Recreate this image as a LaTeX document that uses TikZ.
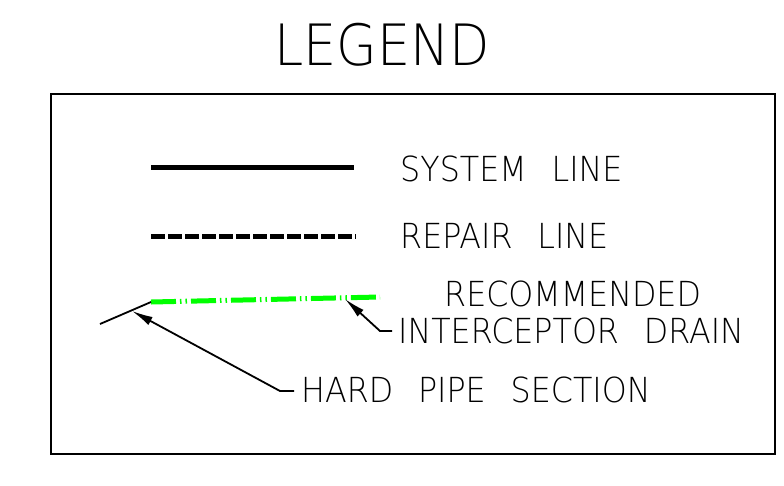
\documentclass[tikz,border=0pt]{standalone}
\usepackage{fontspec}
\newfontfamily\cad[FakeStretch=0.92]{DejaVu Sans ExtraLight}
\usetikzlibrary{arrows.meta}
\definecolor{drain}{RGB}{0,255,0}
\newcommand{\gap}{\hspace{0.72em}}
\begin{document}
\begin{tikzpicture}[x=1pt,y=-1pt,
  lbl/.style={anchor=base west,inner sep=0pt,font=\cad\fontsize{34.5}{38}\selectfont},
  leader/.style={line width=1.8pt,{Latex[length=21pt,width=9pt]}-},
  sysline/.style={line width=5pt},
  repline/.style={line width=5pt,dash pattern=on 14pt off 3pt},
  drainline/.style={line width=5pt,drain,dash pattern=on 25pt off 4pt on 1.5pt off 4pt on 1.5pt off 4pt},
  pipeline/.style={line width=1.8pt}]
\useasboundingbox (0,0) rectangle (784,485);
\node[anchor=base,inner sep=0pt,font=\cad\fontsize{57}{60}\selectfont] (title) at (382,65) {LEGEND};
\node[draw,line width=1.8pt,minimum width=724pt,minimum height=360pt,anchor=north west,inner sep=0pt] (frame) at (50,93) {};
% system line
\coordinate (s1) at (151,167); \coordinate (s2) at (354,167);
\draw[sysline] (s1) -- (s2);
\node[lbl] (syst) at (400,181) {SYSTEM\gap LINE};
% repair line
\coordinate (r1) at (151,236); \coordinate (r2) at (356,236);
\draw[repline] (r1) -- (r2);
\node[lbl] (rept) at (400,248) {REPAIR\gap LINE};
% interceptor drain
\coordinate (d1) at (151,302); \coordinate (d2) at (380,297);
\draw[drainline] (d1) -- (d2);
\node[lbl] (rect) at (444,306) {RECOMMENDED};
\node[lbl] (intt) at (398,343) {INTERCEPTOR\gap DRAIN};
% hard pipe
\coordinate (p0) at (100,324);
\draw[pipeline] (p0) -- (d1);
\node[lbl] (hpt) at (301,402) {HARD\gap PIPE\gap SECTION};
% leaders
\coordinate (ta) at (132,311); \coordinate (ba) at (280,391); \coordinate (ea) at (294,391);
\draw[leader] (ta) -- (ba) -- (ea);
\coordinate (tb) at (345,299); \coordinate (bb) at (380,331); \coordinate (eb) at (392,331);
\draw[leader] (tb) -- (bb) -- (eb);
\end{tikzpicture}
\end{document}
